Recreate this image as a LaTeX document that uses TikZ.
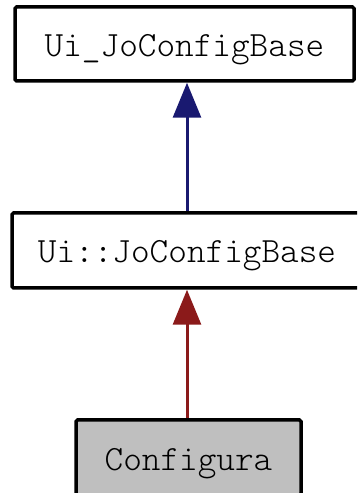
\documentclass[tikz,border=0pt]{standalone}
\usepackage{fontspec}
\newfontfamily\lmlight{Latin Modern Mono Light}
\usetikzlibrary{arrows.meta}
\definecolor{edgeblue}{RGB}{25,25,112}
\definecolor{edgered}{RGB}{139,26,26}
\definecolor{boxgray}{RGB}{191,191,191}
\tikzset{
  classbox/.style={draw=black, line width=3.5pt, rounded corners=1.5pt, inner sep=0pt,
    text height=25pt, text depth=0pt,
    font=\lmlight\fontsize{35.5}{40}\selectfont, text=black},
  inherit/.style={line width=3pt, -{Triangle[width=28pt,length=35pt]}}
}
\begin{document}
\begin{tikzpicture}[x=1pt,y=1pt]
\useasboundingbox (0,0) rectangle (357,493);
\clip (0,0) rectangle (357,493);
\node[classbox, fill=white, minimum width=339pt, minimum height=74pt] (top) at (184.5,449) {Ui\_JoConfigBase};
\node[classbox, fill=white, minimum width=350pt, minimum height=75pt] (mid) at (187,242.5) {Ui::JoConfigBase};
\node[classbox, fill=boxgray, minimum width=225pt, minimum height=75pt] (cfg) at (188.5,35.5) {Configura};
\draw[inherit, draw=edgeblue, fill=edgeblue] (mid.north) -- (mid.north |- top.south);
\draw[inherit, draw=edgered, fill=edgered] (cfg.north -| mid.south) -- (mid.south);
\end{tikzpicture}
\end{document}
